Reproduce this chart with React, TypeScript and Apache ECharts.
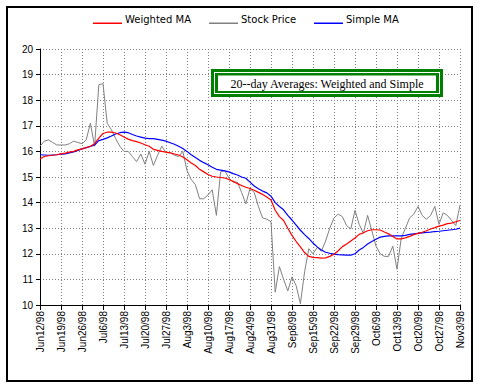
import React, { useEffect, useRef } from "react";
import * as echarts from "echarts";

const tickLabels = [
  "Jun12/98", "Jun19/98", "Jun26/98", "Jul6/98", "Jul13/98", "Jul20/98", "Jul27/98",
  "Aug3/98", "Aug10/98", "Aug17/98", "Aug24/98", "Aug31/98", "Sep8/98", "Sep15/98",
  "Sep22/98", "Sep29/98", "Oct6/98", "Oct13/98", "Oct20/98", "Oct27/98", "Nov3/98",
];

const stockPrice = [
  16.2, 16.4, 16.45, 16.35, 16.25, 16.25, 16.25, 16.3, 16.4, 16.35,
  16.3, 16.45, 17.1, 16.2, 18.6, 18.65, 17.1, 16.85, 16.5, 16.2,
  16.0, 16.0, 15.8, 15.6, 15.9, 15.5, 16.0, 15.45, 15.85, 16.2,
  15.95, 15.95, 15.85, 15.8, 16.0, 15.25, 14.9, 14.7, 14.15, 14.15,
  14.3, 14.5, 13.5, 15.2, 15.25, 14.95, 14.8, 14.8, 14.4, 13.95,
  14.55, 14.4, 13.85, 13.4, 13.35, 13.25, 10.5, 11.5, 11.0, 10.55,
  11.1, 10.75, 10.05, 11.3, 12.2, 12.0, 12.25, 12.1, 12.5, 13.0,
  13.4, 13.55, 13.45, 13.1, 12.97, 13.7, 13.15, 12.8, 13.5, 12.9,
  12.3, 12.0, 11.9, 11.9, 12.3, 11.4, 12.6, 13.0, 13.4, 13.55,
  13.85, 13.5, 13.35, 13.5, 13.85, 13.15, 13.6, 13.5, 13.3, 13.1,
  13.9,
];

const weightedMA = [
  15.7, 15.8, 15.83, 15.85, 15.87, 15.9, 15.93, 15.97, 16.0, 16.06,
  16.1, 16.15, 16.2, 16.3, 16.52, 16.7, 16.75, 16.75, 16.72, 16.65,
  16.56, 16.48, 16.42, 16.38, 16.33, 16.26, 16.2, 16.08, 16.04, 16.0,
  15.97, 15.94, 15.9, 15.86, 15.78, 15.67, 15.55, 15.45, 15.3, 15.2,
  15.1, 15.03, 15.0, 14.98, 14.96, 14.9, 14.83, 14.74, 14.67, 14.6,
  14.55, 14.48, 14.4, 14.32, 14.22, 14.1, 13.7, 13.45, 13.3, 13.0,
  12.72, 12.48, 12.27, 12.05, 11.9, 11.86, 11.85, 11.83, 11.84, 11.9,
  11.98, 12.12, 12.28, 12.38, 12.5, 12.62, 12.76, 12.82, 12.9, 12.94,
  12.94, 12.93, 12.85, 12.78, 12.68, 12.58, 12.58, 12.62, 12.68, 12.75,
  12.8, 12.84, 12.9, 12.97, 13.02, 13.08, 13.12, 13.18, 13.2, 13.25,
  13.3,
];

const simpleMA = [
  15.87, 15.86, 15.85, 15.86, 15.87, 15.89, 15.9, 15.94, 15.98, 16.04,
  16.1, 16.15, 16.19, 16.25, 16.42, 16.47, 16.53, 16.6, 16.68, 16.73,
  16.75, 16.73, 16.66, 16.6, 16.56, 16.52, 16.5, 16.5, 16.47, 16.44,
  16.4, 16.34, 16.28, 16.2, 16.11, 16.0, 15.87, 15.76, 15.65, 15.56,
  15.48, 15.38, 15.3, 15.27, 15.24, 15.2, 15.13, 15.08, 15.0, 14.95,
  14.8, 14.65, 14.54, 14.45, 14.38, 14.25, 14.0, 13.85, 13.72, 13.5,
  13.32, 13.12, 12.92, 12.75, 12.6, 12.42, 12.27, 12.15, 12.06, 12.02,
  11.99, 11.97, 11.96, 11.95, 11.95, 12.0, 12.15, 12.25, 12.38, 12.48,
  12.57, 12.65, 12.68, 12.7, 12.7, 12.7, 12.7, 12.72, 12.76, 12.78,
  12.8, 12.82, 12.84, 12.85, 12.87, 12.88, 12.9, 12.92, 12.94, 12.96,
  13.0,
];

const seriesNames = ["Weighted MA", "Stock Price", "Simple MA"];
const seriesColors = ["#ff0000", "#808080", "#0000ff"];

const titleText = "20--day Averages: Weighted and Simple";

const toPairs = (arr: number[]) => arr.map((v, i) => [i, v]);

export default function App() {
  const ref = useRef<HTMLDivElement>(null);
  useEffect(() => {
    if (!ref.current) return;
    const chart = echarts.init(ref.current, null, { renderer: "svg" });
    const font = "Arial, 'Liberation Sans', sans-serif";
    const legendLeft = [93, 209, 314];
    const legendGraphics: any[] = [];
    seriesNames.forEach((name, k) => {
      const x0 = legendLeft[k];
      legendGraphics.push({
        type: "rect",
        shape: { x: x0, y: 22.5, width: 29, height: 1.5 },
        style: { fill: seriesColors[k] },
        z: 60,
      });
      legendGraphics.push({
        type: "text",
        x: x0 + 32,
        y: 19.5,
        z: 60,
        style: {
          text: name,
          fill: "#000",
          font: "10px 'DejaVu Sans', Verdana, sans-serif",
          textAlign: "left",
          textVerticalAlign: "middle",
        },
      });
    });
    chart.setOption({
      animation: false,
      backgroundColor: "#fff",
      grid: { left: 40, right: 20, top: 49, bottom: 84, containLabel: false },
      xAxis: {
        type: "value",
        min: 0,
        max: 100,
        interval: 5,
        axisLine: { show: true, onZero: false, lineStyle: { color: "#000", width: 1 } },
        axisTick: { show: true, length: 5, lineStyle: { color: "#000" } },
        axisLabel: {
          rotate: 90,
          margin: 6,
          fontSize: 10,
          fontFamily: font,
          color: "#000",
          formatter: (v: number) => tickLabels[Math.round(v / 5)] ?? "",
        },
        splitLine: { show: true, lineStyle: { color: "#808080", type: [1, 2], width: 1 } },
      },
      yAxis: {
        type: "value",
        min: 10,
        max: 20,
        interval: 1,
        axisLine: { show: true, lineStyle: { color: "#000", width: 1 } },
        axisTick: { show: true, length: 4, lineStyle: { color: "#000" } },
        axisLabel: { fontSize: 10, fontFamily: font, color: "#000", margin: 7 },
        splitLine: { show: true, lineStyle: { color: "#808080", type: [1, 2], width: 1 } },
      },
      graphic: [
        {
          type: "rect",
          shape: { x: 7, y: 7, width: 465, height: 374 },
          style: { fill: "none", stroke: "#000", lineWidth: 2 },
          z: 100,
        },
        ...legendGraphics,
        { type: "rect", shape: { x: 211, y: 69, width: 232, height: 28 }, style: { fill: "#008000" }, z: 50 },
        { type: "rect", shape: { x: 214, y: 72, width: 226, height: 22 }, style: { fill: "#fff" }, z: 51 },
        { type: "rect", shape: { x: 215, y: 73, width: 224, height: 20 }, style: { fill: "#008000" }, z: 52 },
        { type: "rect", shape: { x: 218, y: 75.5, width: 218, height: 15.5 }, style: { fill: "#fff" }, z: 53 },
        {
          type: "text",
          x: 327,
          y: 83.5,
          z: 54,
          style: {
            text: titleText,
            fill: "#000",
            font: "12px 'Liberation Serif', 'Times New Roman', serif",
            textAlign: "center",
            textVerticalAlign: "middle",
          },
        },
      ],
      series: [
        {
          name: seriesNames[1],
          type: "line",
          data: toPairs(stockPrice),
          showSymbol: false,
          symbol: "none",
          lineStyle: { color: seriesColors[1], width: 1 },
          itemStyle: { color: seriesColors[1] },
          z: 2,
        },
        {
          name: seriesNames[2],
          type: "line",
          data: toPairs(simpleMA),
          showSymbol: false,
          symbol: "none",
          lineStyle: { color: seriesColors[2], width: 1.2 },
          itemStyle: { color: seriesColors[2] },
          z: 3,
        },
        {
          name: seriesNames[0],
          type: "line",
          data: toPairs(weightedMA),
          showSymbol: false,
          symbol: "none",
          lineStyle: { color: seriesColors[0], width: 1.2 },
          itemStyle: { color: seriesColors[0] },
          z: 4,
        },
      ],
    });
    return () => chart.dispose();
  }, []);
  return (
    <div
      ref={ref}
      style={{ position: "fixed", left: 0, top: 0, width: 480, height: 389 }}
    />
  );
}
